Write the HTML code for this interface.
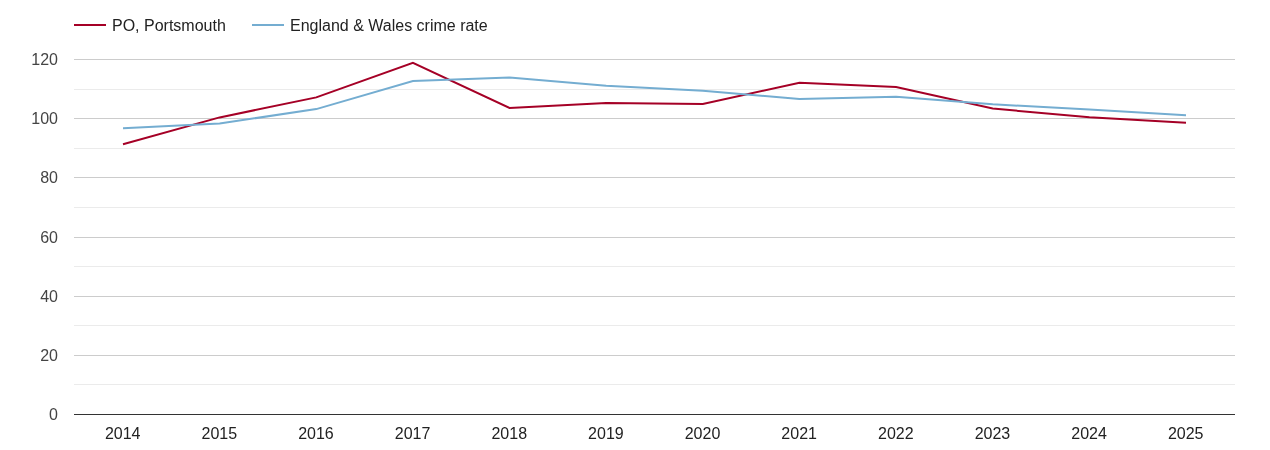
<!DOCTYPE html>
<html lang="en">
<head>
<meta charset="utf-8">
<title>PO, Portsmouth crime rate</title>
<style>
html,body{margin:0;padding:0;background:#fff;}
body{width:1270px;height:450px;overflow:hidden;}
#chart{width:1270px;height:450px;position:relative;will-change:transform;}
svg{display:block;}
svg text{font-family:"Liberation Sans",Arial,sans-serif;font-size:16px;}
</style>
</head>
<body>
<div id="chart">
<svg width="1270" height="450" viewBox="0 0 1270 450">
<g class="legend">
<rect x="74" y="24" width="32" height="2" fill="#a50026"/>
<text x="112" y="30.6" fill="#222222">PO, Portsmouth</text>
<rect x="252" y="24" width="32" height="2" fill="#74add1"/>
<text x="290" y="30.6" fill="#222222">England &amp; Wales crime rate</text>
</g>
<g class="grid" shape-rendering="crispEdges">
<rect x="74" y="89" width="1161" height="1" fill="#ebebeb"/>
<rect x="74" y="148" width="1161" height="1" fill="#ebebeb"/>
<rect x="74" y="207" width="1161" height="1" fill="#ebebeb"/>
<rect x="74" y="266" width="1161" height="1" fill="#ebebeb"/>
<rect x="74" y="325" width="1161" height="1" fill="#ebebeb"/>
<rect x="74" y="384" width="1161" height="1" fill="#ebebeb"/>
<rect x="74" y="59" width="1161" height="1" fill="#cccccc"/>
<rect x="74" y="118" width="1161" height="1" fill="#cccccc"/>
<rect x="74" y="177" width="1161" height="1" fill="#cccccc"/>
<rect x="74" y="237" width="1161" height="1" fill="#cccccc"/>
<rect x="74" y="296" width="1161" height="1" fill="#cccccc"/>
<rect x="74" y="355" width="1161" height="1" fill="#cccccc"/>
<rect x="74" y="414" width="1161" height="1" fill="#333333"/>
</g>
<g class="series" fill="none" stroke-width="2">
<path d="M123.00,144.30L219.64,117.40L316.27,97.40L412.91,62.80L509.55,108.00L606.18,103.00L702.82,104.00L799.45,82.80L896.09,87.00L992.73,108.60L1089.36,117.20L1186.00,122.70" stroke="#a50026"/>
<path d="M123.00,128.20L219.64,123.50L316.27,109.10L412.91,81.00L509.55,77.60L606.18,85.70L702.82,90.80L799.45,98.90L896.09,96.70L992.73,104.30L1089.36,109.50L1186.00,115.20" stroke="#74add1"/>
</g>
<g class="haxis" text-anchor="middle" fill="#222222">
<text x="122.70" y="439.1">2014</text>
<text x="219.34" y="439.1">2015</text>
<text x="315.97" y="439.1">2016</text>
<text x="412.61" y="439.1">2017</text>
<text x="509.25" y="439.1">2018</text>
<text x="605.88" y="439.1">2019</text>
<text x="702.52" y="439.1">2020</text>
<text x="799.15" y="439.1">2021</text>
<text x="895.79" y="439.1">2022</text>
<text x="992.43" y="439.1">2023</text>
<text x="1089.06" y="439.1">2024</text>
<text x="1185.70" y="439.1">2025</text>
</g>
<g class="vaxis" text-anchor="end" fill="#444444">
<text x="58" y="65.10">120</text>
<text x="58" y="124.27">100</text>
<text x="58" y="183.43">80</text>
<text x="58" y="242.60">60</text>
<text x="58" y="301.77">40</text>
<text x="58" y="360.93">20</text>
<text x="58" y="420.10">0</text>
</g>
</svg>
</div>
</body>
</html>
